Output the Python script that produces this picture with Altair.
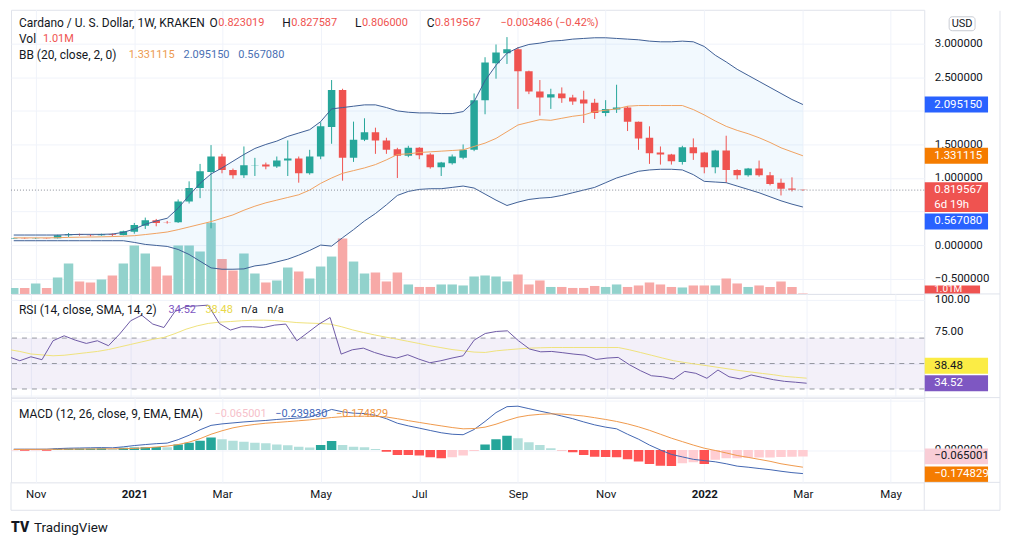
import altair as alt
import pandas as pd

# ---------------- data: weekly ADA/USD bars (Kraken) ----------------
weeks = pd.date_range("2020-10-19", "2022-03-07", freq="7D")

open_ = [
    0.100, 0.105, 0.101, 0.105, 0.102, 0.145, 0.160, 0.150, 0.145, 0.160,
    0.150, 0.200, 0.290, 0.370, 0.345, 0.340, 0.650, 0.850, 1.090, 1.320,
    1.120, 1.040, 1.190, 1.200, 1.170, 1.260, 1.290, 1.070, 1.320, 1.760,
    2.310, 1.300, 1.570, 1.680, 1.560, 1.430, 1.330, 1.450, 1.350, 1.160,
    1.220, 1.300, 1.420, 2.160, 2.710, 2.860, 2.920, 2.590, 2.290, 2.200,
    2.260, 2.200, 2.170, 2.120, 1.970, 2.020, 2.050, 1.840, 1.600, 1.380,
    1.350, 1.240, 1.460, 1.380, 1.160, 1.410, 1.120, 1.040, 1.140, 1.040,
    0.930, 0.845, 0.823019]
high_ = [
    0.108, 0.112, 0.110, 0.109, 0.155, 0.180, 0.170, 0.160, 0.170, 0.175,
    0.215, 0.330, 0.410, 0.390, 0.360, 0.680, 0.950, 1.210, 1.490, 1.360,
    1.140, 1.470, 1.300, 1.230, 1.320, 1.560, 1.320, 1.420, 1.830, 2.460,
    2.330, 1.840, 1.890, 1.750, 1.600, 1.450, 1.480, 1.460, 1.370, 1.240,
    1.350, 1.500, 2.260, 2.800, 2.990, 3.100, 2.950, 2.600, 2.460, 2.330,
    2.350, 2.240, 2.300, 2.180, 2.160, 2.390, 2.070, 1.840, 1.770, 1.470,
    1.360, 1.480, 1.590, 1.390, 1.420, 1.630, 1.130, 1.150, 1.260, 1.090,
    0.990, 1.010, 0.827587]
low_ = [
    0.097, 0.095, 0.093, 0.098, 0.100, 0.120, 0.140, 0.130, 0.140, 0.130,
    0.145, 0.170, 0.240, 0.280, 0.320, 0.330, 0.620, 0.700, 0.250, 1.070,
    0.990, 1.000, 1.030, 1.130, 1.150, 1.030, 0.930, 1.050, 1.280, 1.510,
    0.960, 1.240, 1.550, 1.360, 1.360, 1.000, 1.310, 1.280, 1.140, 1.030,
    1.200, 1.280, 1.400, 1.950, 2.480, 2.700, 2.030, 2.250, 1.930, 2.030,
    2.120, 2.090, 1.820, 1.880, 1.920, 1.970, 1.700, 1.420, 1.210, 1.200,
    1.200, 1.200, 1.270, 1.070, 1.070, 0.930, 0.980, 1.020, 1.020, 0.890,
    0.740, 0.800, 0.806000]
close_ = [
    0.105, 0.101, 0.105, 0.102, 0.145, 0.160, 0.150, 0.145, 0.160, 0.150,
    0.205, 0.300, 0.370, 0.330, 0.340, 0.650, 0.850, 1.100, 1.320, 1.120,
    1.040, 1.190, 1.195, 1.170, 1.260, 1.290, 1.070, 1.320, 1.770, 2.310,
    1.300, 1.570, 1.680, 1.560, 1.420, 1.330, 1.450, 1.340, 1.160, 1.230,
    1.320, 1.420, 2.160, 2.720, 2.870, 2.920, 2.590, 2.290, 2.200, 2.250,
    2.190, 2.140, 2.110, 1.970, 2.030, 2.050, 1.840, 1.590, 1.370, 1.350,
    1.250, 1.460, 1.370, 1.160, 1.410, 1.120, 1.040, 1.140, 1.040, 0.910,
    0.840, 0.823, 0.819567]
volume_m = [
    12, 12, 21, 12, 33, 61, 25, 23, 29, 37,
    61, 97, 81, 55, 37, 97, 97, 85, 143, 70,
    47, 81, 41, 23, 27, 53, 45, 31, 55, 75,
    111, 65, 41, 43, 25, 43, 19, 14, 14, 19,
    19, 17, 35, 37, 35, 25, 39, 19, 27, 14,
    14, 12, 12, 16, 14, 19, 14, 17, 23, 19,
    14, 13, 17, 17, 17, 31, 21, 14, 17, 14,
    25, 14, 1.01]
bb_upper = [
    0.150, 0.150, 0.150, 0.150, 0.150, 0.155, 0.160, 0.160, 0.160, 0.165,
    0.190, 0.240, 0.310, 0.360, 0.400, 0.550, 0.740, 0.920, 1.060, 1.150,
    1.250, 1.350, 1.440, 1.500, 1.550, 1.620, 1.670, 1.720, 1.840, 2.030,
    2.050, 2.070, 2.090, 2.090, 2.050, 2.000, 1.980, 1.970, 1.970, 1.960,
    1.960, 1.990, 2.140, 2.450, 2.680, 2.860, 2.940, 2.990, 3.010, 3.040,
    3.050, 3.070, 3.080, 3.090, 3.090, 3.080, 3.070, 3.060, 3.040, 3.030,
    3.030, 3.040, 3.030, 2.960, 2.830, 2.730, 2.620, 2.530, 2.440, 2.350,
    2.260, 2.170, 2.095150]
bb_basis = [
    0.108, 0.108, 0.108, 0.108, 0.110, 0.115, 0.118, 0.120, 0.123, 0.127,
    0.133, 0.140, 0.157, 0.175, 0.195, 0.230, 0.270, 0.310, 0.350, 0.400,
    0.450, 0.520, 0.580, 0.630, 0.670, 0.710, 0.750, 0.820, 0.920, 1.000,
    1.070, 1.110, 1.150, 1.200, 1.270, 1.350, 1.360, 1.380, 1.390, 1.400,
    1.410, 1.420, 1.470, 1.520, 1.590, 1.690, 1.790, 1.830, 1.870, 1.860,
    1.890, 1.920, 1.940, 1.990, 2.010, 2.030, 2.070, 2.080, 2.080, 2.080,
    2.080, 2.080, 2.020, 1.940, 1.850, 1.770, 1.710, 1.660, 1.600, 1.530,
    1.450, 1.390, 1.331115]
bb_lower = [
    0.065, 0.065, 0.065, 0.065, 0.065, 0.065, 0.065, 0.065, 0.065, 0.065,
    0.065, 0.040, 0.010, -0.005, -0.020, -0.065, -0.140, -0.240, -0.340, -0.360,
    -0.360, -0.355, -0.310, -0.290, -0.250, -0.210, -0.150, -0.080, 0.000, -0.015,
    0.110, 0.230, 0.360, 0.470, 0.600, 0.740, 0.800, 0.830, 0.840, 0.840,
    0.860, 0.880, 0.850, 0.760, 0.670, 0.590, 0.640, 0.680, 0.700, 0.710,
    0.740, 0.780, 0.820, 0.860, 0.930, 1.000, 1.050, 1.100, 1.120, 1.130,
    1.130, 1.120, 1.050, 0.950, 0.940, 0.930, 0.880, 0.830, 0.780, 0.720,
    0.660, 0.610, 0.567080]
rsi = [
    55.3, 52.2, 55.3, 53.0, 67.9, 71.8, 68.4, 65.8, 67.9, 64.0,
    73.1, 83.6, 88.0, 81.0, 78.3, 90.9, 94.8, 95.3, 95.9, 81.5,
    76.3, 78.9, 78.9, 78.3, 80.2, 81.0, 67.9, 74.4, 81.0, 86.2,
    57.4, 60.8, 62.1, 58.7, 56.1, 54.3, 56.9, 53.5, 50.6, 52.2,
    54.3, 56.1, 68.4, 73.6, 75.2, 75.7, 67.9, 61.4, 59.2, 59.5,
    58.5, 57.4, 56.6, 53.2, 54.3, 54.8, 49.1, 44.4, 40.4, 39.6,
    37.8, 43.8, 42.3, 38.4, 44.9, 39.6, 37.9, 41.0, 39.1, 37.3,
    36.0, 35.3, 34.52]
rsi_ma = [
    61.0, 59.5, 57.5, 56.8, 56.1, 56.5, 57.5, 58.5, 59.5, 61.0,
    63.0, 65.0, 67.0, 69.0, 70.5, 73.5, 77.0, 79.6, 81.5, 82.5,
    83.0, 83.6, 84.0, 84.1, 83.8, 83.0, 82.2, 81.8, 81.5, 81.0,
    79.0, 76.5, 74.4, 72.5, 70.8, 69.2, 67.5, 65.8, 64.0, 62.5,
    61.0, 60.0, 59.0, 58.7, 60.0, 60.8, 61.5, 62.1, 62.4, 62.6,
    62.6, 62.6, 62.6, 62.6, 62.6, 62.6, 60.8, 58.7, 56.5, 54.3,
    52.2, 50.8, 49.5, 48.3, 47.0, 45.7, 44.4, 43.3, 42.2, 41.2,
    39.9, 39.2, 38.48]
macd = [
    0.008, 0.008, 0.008, 0.008, 0.014, 0.018, 0.020, 0.022, 0.024, 0.022,
    0.032, 0.045, 0.055, 0.064, 0.070, 0.105, 0.150, 0.205, 0.250, 0.265,
    0.275, 0.285, 0.293, 0.300, 0.310, 0.318, 0.325, 0.335, 0.372, 0.412,
    0.388, 0.374, 0.370, 0.352, 0.318, 0.272, 0.245, 0.222, 0.198, 0.175,
    0.160, 0.155, 0.208, 0.290, 0.380, 0.440, 0.445, 0.420, 0.395, 0.372,
    0.345, 0.318, 0.285, 0.255, 0.232, 0.215, 0.160, 0.110, 0.050, 0.000,
    -0.045, -0.070, -0.095, -0.108, -0.120, -0.140, -0.164, -0.175, -0.188, -0.200,
    -0.216, -0.230, -0.239830]
signal = [
    0.005, 0.006, 0.006, 0.007, 0.007, 0.008, 0.009, 0.010, 0.011, 0.012,
    0.013, 0.016, 0.022, 0.030, 0.040, 0.055, 0.080, 0.115, 0.160, 0.195,
    0.225, 0.245, 0.260, 0.272, 0.280, 0.288, 0.297, 0.306, 0.318, 0.330,
    0.338, 0.342, 0.343, 0.342, 0.335, 0.318, 0.298, 0.280, 0.262, 0.245,
    0.228, 0.215, 0.218, 0.232, 0.262, 0.300, 0.333, 0.352, 0.362, 0.367,
    0.365, 0.355, 0.345, 0.328, 0.310, 0.290, 0.265, 0.235, 0.200, 0.160,
    0.120, 0.085, 0.050, 0.018, -0.005, -0.030, -0.056, -0.075, -0.095, -0.115,
    -0.140, -0.158, -0.174829]
hist = [
    -0.005, -0.008, -0.004, -0.008, 0.012, 0.014, 0.015, 0.016, 0.017, 0.010,
    0.022, 0.025, 0.027, 0.030, 0.028, 0.057, 0.074, 0.095, 0.128, 0.108,
    0.095, 0.084, 0.074, 0.068, 0.057, 0.047, 0.034, 0.024, 0.050, 0.091,
    0.050, 0.032, 0.028, 0.010, -0.017, -0.050, -0.052, -0.057, -0.074, -0.084,
    -0.074, -0.057, -0.010, 0.057, 0.108, 0.145, 0.118, 0.078, 0.050, 0.017,
    -0.003, -0.024, -0.050, -0.068, -0.072, -0.074, -0.095, -0.118, -0.142, -0.160,
    -0.162, -0.135, -0.125, -0.142, -0.100, -0.084, -0.083, -0.078, -0.077, -0.076,
    -0.070, -0.068, -0.065001]

tick_dates = ["2020-11-02", "2021-01-04", "2021-03-01", "2021-05-03", "2021-07-05",
              "2021-09-06", "2021-11-01", "2022-01-03", "2022-03-07", "2022-05-02"]
price_ticks = [-0.5, 0.0, 0.5, 1.0, 1.5, 2.0, 2.5, 3.0]
rsi_ticks = [100, 75, 50, 25]
rsi_levels = [70, 50, 30]
macd_ticks = [0.5, 0.0]

# ---------------- styling / layout ----------------
FONT = "Roboto"
TXT = "#131722"
GRID = "#f0f3fa"
BORDER = "#e0e3eb"
UP, DN = "#26a69a", "#ef5350"
VUP, VDN = "#92d2cc", "#f7a9a7"
H_UP, H_UPL, H_DN, H_DNL = "#26a69a", "#b2dfdb", "#ff5252", "#ffcdd2"
BB_LINE, BB_BASIS = "#3f5f96", "#f0a260"
RSI_C, RSI_MA_C = "#6e5aa6", "#efe27c"
MACD_C, SIG_C = "#4266b2", "#ef9a4c"

W = 916
H_P, H_R, H_M = 285, 104, 85
P_DOM = [-0.728, 3.507]
V_DOM = [0, 570]
R_DOM = [23.2, 104.7]
M_DOM = [-0.329, 0.532]


def ms(ts):
    return int(pd.Timestamp(ts).value // 10**6)


ref = pd.Timestamp("2021-01-04")
ppd = 578 / 364.0
X_DOM = [ms(ref - pd.Timedelta(days=120 / ppd)), ms(ref + pd.Timedelta(days=(W - 120) / ppd))]
tick_ms = [ms(t) for t in tick_dates]

hcol = []
for k, h in enumerate(hist):
    prev = hist[k - 1] if k > 0 else h
    if h >= 0:
        hcol.append(H_UP if h > prev else H_UPL)
    else:
        hcol.append(H_DN if h < prev else H_DNL)

df = pd.DataFrame({
    "date": weeks.strftime("%Y-%m-%d"),
    "open": open_, "high": high_, "low": low_, "close": close_, "vol": volume_m,
    "bbu": bb_upper, "bbb": bb_basis, "bbl": bb_lower,
    "rsi": rsi, "rsima": rsi_ma, "macd": macd, "signal": signal, "hist": hist,
})
df["ccol"] = [UP if c >= o else DN for o, c in zip(open_, close_)]
df["vcol"] = [VUP if c >= o else VDN for o, c in zip(open_, close_)]
df["hcol"] = hcol

xscale = alt.Scale(type="utc", domain=X_DOM)


def xax(labels):
    return alt.Axis(values=tick_ms, grid=True, gridColor=GRID, ticks=False, domain=False,
                    labels=labels, title=None, labelOverlap=False, labelPadding=6,
                    labelExpr="utcFormat(datum.value, utcmonth(datum.value) == 0 ? '%Y' : '%b')",
                    labelFontWeight={"condition": {"test": "utcmonth(datum.value) == 0", "value": "bold"},
                                     "value": "normal"},
                    labelFont=FONT, labelFontSize=11.5, labelColor=TXT)


def yax(values, expr):
    return alt.Axis(orient="right", values=values, labelExpr=expr, grid=True, gridColor=GRID,
                    ticks=False, domain=False, labelPadding=10, title=None, labelOverlap=False,
                    labelFont=FONT, labelFontSize=11.5, labelColor=TXT)


p_scale = alt.Scale(domain=P_DOM, nice=False, zero=False)
# 2.0 and 0.5 sit under the value tags on the price scale, as in the reference
p_axis = yax(price_ticks, "(datum.value == 2 || datum.value == 0.5) ? '' : format(datum.value, '.6f')")
r_scale = alt.Scale(domain=R_DOM, nice=False, zero=False)
r_axis = yax(rsi_ticks, "datum.value < 30 ? '' : format(datum.value, '.2f')")
m_scale = alt.Scale(domain=M_DOM, nice=False, zero=False)
m_axis = yax(macd_ticks, "datum.value > 0.4 ? '' : format(datum.value, '.6f')")


def PY(f):
    return alt.Y(f, scale=p_scale, axis=p_axis)


def RY(f):
    return alt.Y(f, scale=r_scale, axis=r_axis)


def MY(f):
    return alt.Y(f, scale=m_scale, axis=m_axis)


one_row = pd.DataFrame({"k": [0]})


def label(x, y, s, color=TXT, size=12, weight="normal", align="left"):
    return alt.Chart(one_row).mark_text(align=align, baseline="middle", font=FONT, fontSize=size,
                                        fontWeight=weight, color=color, text=s).encode(
        x=alt.value(x), y=alt.value(y))


def axis_box(yfn, value, txt, fill, tcol, dy=0.0, top=-8, bottom=8, txt2=None):
    d = pd.DataFrame({"v": [value]})
    out = [alt.Chart(d).mark_rect(color=fill, yOffset=dy + top, y2Offset=dy + bottom).encode(
        x=alt.value(W + 0.5), x2=alt.value(W + 64), y=yfn("v:Q"), y2="v:Q"),
        alt.Chart(d).mark_text(align="left", baseline="middle", dy=dy, font=FONT, fontSize=11.5,
                               color=tcol, text=txt).encode(x=alt.value(W + 10), y=yfn("v:Q"))]
    if txt2:
        out.append(alt.Chart(d).mark_text(align="left", baseline="middle", dy=dy + 15, font=FONT,
                                          fontSize=11.5, color=tcol, text=txt2).encode(
            x=alt.value(W + 10), y=yfn("v:Q")))
    return out


base = alt.Chart(df)

# ---------------- price panel ----------------
XP = alt.X("date:T", scale=xscale, axis=xax(False))
vscale = alt.Scale(domain=V_DOM, nice=False)
vol_bars = base.mark_bar(size=9.5, clip=True).encode(
    x=XP, y=alt.Y("vol:Q", scale=vscale, axis=None), color=alt.Color("vcol:N", scale=None))
vlast = pd.DataFrame({"v": [volume_m[-1]]})
vol_box = alt.Chart(vlast).mark_rect(color=DN, yOffset=-8).encode(
    x=alt.value(W + 0.5), x2=alt.value(W + 56), y=alt.Y("v:Q", scale=vscale, axis=None), y2=alt.datum(0))
vol_txt = alt.Chart(vlast).mark_text(align="left", baseline="alphabetic", dy=-1, font=FONT, fontSize=10,
                                     color="white", text="1.01M").encode(
    x=alt.value(W + 10), y=alt.Y("v:Q", scale=vscale, axis=None))
vol_layer = alt.layer(vol_bars, vol_box, vol_txt)

bb_fill = base.mark_area(color="#2196f3", opacity=0.06, clip=True).encode(x=XP, y=PY("bbl:Q"), y2="bbu:Q")
bb_u = base.mark_line(color=BB_LINE, strokeWidth=1, clip=True).encode(x=XP, y=PY("bbu:Q"))
bb_l = base.mark_line(color=BB_LINE, strokeWidth=1, clip=True).encode(x=XP, y=PY("bbl:Q"))
bb_b = base.mark_line(color=BB_BASIS, strokeWidth=1, clip=True).encode(x=XP, y=PY("bbb:Q"))
wick = base.mark_rule(strokeWidth=1, clip=True).encode(
    x=XP, y=PY("low:Q"), y2="high:Q", color=alt.Color("ccol:N", scale=None))
body = base.mark_bar(size=7.5, clip=True).encode(
    x=XP, y=PY("open:Q"), y2="close:Q", color=alt.Color("ccol:N", scale=None))
last_line = alt.Chart(pd.DataFrame({"v": [close_[-1]]})).mark_rule(
    color="#8a8e99", strokeDash=[1, 2], strokeWidth=1).encode(y=PY("v:Q"))

price_labels = []
price_labels += axis_box(PY, bb_upper[-1], "2.095150", "#2962ff", "white")
price_labels += axis_box(PY, bb_basis[-1], "1.331115", "#f57c00", "white")
price_labels += axis_box(PY, close_[-1], "0.819567", DN, "white", top=-8, bottom=22, txt2="6d 19h")
price_labels += axis_box(PY, bb_lower[-1], "0.567080", "#2962ff", "white", dy=14.5)

usd_box = alt.Chart(one_row).mark_rect(fill="white", stroke="#c9ccd4", strokeWidth=1, cornerRadius=3).encode(
    x=alt.value(941), x2=alt.value(967), y=alt.value(7), y2=alt.value(21))
usd_txt = label(954, 14.5, "USD", size=11, align="center")

RED_T, ORA_T, BLU_T = "#ef5350", "#ec9a4f", "#4a6fb3"
NS = 11  # size of the numbers in the legends
hdr = [
    label(8, 13, "Cardano / U. S. Dollar, 1W, KRAKEN"),
    label(199, 13, "O"), label(208, 13, "0.823019", RED_T, NS),
    label(272, 13, "H"), label(281, 13, "0.827587", RED_T, NS),
    label(345, 13, "L"), label(352, 13, "0.806000", RED_T, NS),
    label(417, 13, "C"), label(425, 13, "0.819567", RED_T, NS),
    label(491, 13, "\u22120.003486 (\u22120.42%)", RED_T, NS),
    label(8, 29.5, "Vol"), label(32, 29.5, "1.01M", RED_T, NS),
    label(8, 45.5, "BB (20, close, 2, 0)"),
    label(118, 45.5, "1.331115", ORA_T, NS), label(173, 45.5, "2.095150", BLU_T, NS),
    label(228, 45.5, "0.567080", BLU_T, NS),
]

price_layer = alt.layer(bb_fill, wick, body, bb_u, bb_l, bb_b, last_line,
                        *price_labels, usd_box, usd_txt, *hdr)
price = alt.layer(vol_layer, price_layer).resolve_scale(y="independent").properties(width=W, height=H_P)

# ---------------- RSI panel ----------------
XR = alt.X("date:T", scale=xscale, axis=xax(False))
band = alt.Chart(pd.DataFrame({"a": [70], "b": [30]})).mark_rect(color="#7e57c2", opacity=0.09).encode(
    x=alt.value(0), x2=alt.value(W), y=RY("a:Q"), y2="b:Q")
levels = alt.Chart(pd.DataFrame({"v": rsi_levels})).mark_rule(
    color="#9598a1", strokeDash=[5, 5], strokeWidth=1).encode(y=RY("v:Q"))
rsi_ma_line = base.mark_line(color=RSI_MA_C, strokeWidth=1, clip=True).encode(x=XR, y=RY("rsima:Q"))
rsi_line = base.mark_line(color=RSI_C, strokeWidth=1, clip=True).encode(x=XR, y=RY("rsi:Q"))
rsi_boxes = []
rsi_boxes += axis_box(RY, rsi_ma[-1], "38.48", "#fbec45", TXT, dy=-12.5)
rsi_boxes += axis_box(RY, rsi[-1], "34.52", "#7e57c2", "white")
rsi_hdr = [
    label(8, 16, "RSI (14, close, SMA, 14, 2)"),
    label(158, 16, "34.52", "#7e57c2", NS), label(195, 16, "38.48", "#e8d84a", NS),
    label(231, 16, "n/a", TXT, NS), label(257, 16, "n/a", TXT, NS),
]
rsi_panel = alt.layer(band, levels, rsi_ma_line, rsi_line, *rsi_boxes, *rsi_hdr).properties(width=W, height=H_R)

# ---------------- MACD panel ----------------
XM = alt.X("date:T", scale=xscale, axis=xax(True))
hist_bars = base.mark_bar(size=9.5, clip=True).encode(
    x=XM, y=MY("hist:Q"), color=alt.Color("hcol:N", scale=None))
macd_line = base.mark_line(color=MACD_C, strokeWidth=1, clip=True).encode(x=XM, y=MY("macd:Q"))
sig_line = base.mark_line(color=SIG_C, strokeWidth=1, clip=True).encode(x=XM, y=MY("signal:Q"))
macd_boxes = []
macd_boxes += axis_box(MY, hist[-1], "\u22120.065001", "#f9cdd6", TXT)
macd_boxes += axis_box(MY, signal[-1], "\u22120.174829", "#f57c00", "white", dy=7.2)
macd_hdr = [
    label(8, 16, "MACD (12, 26, close, 9, EMA, EMA)"),
    label(204, 16, "\u22120.065001", "#f6bfca", NS), label(265, 16, "\u22120.239830", "#3f66b8", NS),
    label(326, 16, "\u22120.174829", "#ee9440", NS),
]
frame = [
    alt.Chart(one_row).mark_rule(color=BORDER).encode(x=alt.value(0), x2=alt.value(992), y=alt.value(113)),
    alt.Chart(one_row).mark_rule(color=BORDER).encode(x=alt.value(992), y=alt.value(-388), y2=alt.value(113)),
    alt.Chart(one_row).mark_rule(color=BORDER).encode(x=alt.value(W), y=alt.value(85), y2=alt.value(113)),
    alt.Chart(one_row).mark_rule(color=BORDER).encode(x=alt.value(0), y=alt.value(85), y2=alt.value(113)),
    alt.Chart(one_row).mark_rule(color=BORDER).encode(x=alt.value(W), x2=alt.value(992), y=alt.value(-104)),
    alt.Chart(one_row).mark_rule(color=BORDER).encode(x=alt.value(W), x2=alt.value(992), y=alt.value(0)),
    alt.Chart(one_row).mark_rule(color=BORDER).encode(x=alt.value(W), x2=alt.value(992), y=alt.value(85)),
]
logo = [
    label(0, 130.5, "TV", size=14, weight=900),
    label(23, 130.5, "TradingView", size=13.5),
]
macd_panel = alt.layer(hist_bars, macd_line, sig_line, *macd_boxes, *macd_hdr, *frame, *logo).properties(
    width=W, height=H_M)

chart = alt.vconcat(price, rsi_panel, macd_panel, spacing=0, bounds="flush").properties(
    padding={"left": 2, "top": 0, "right": 2, "bottom": 2}, background="white"
).configure_view(stroke=BORDER, strokeWidth=1)

chart.save("out.html", embed_options={"renderer": "svg", "actions": False})
